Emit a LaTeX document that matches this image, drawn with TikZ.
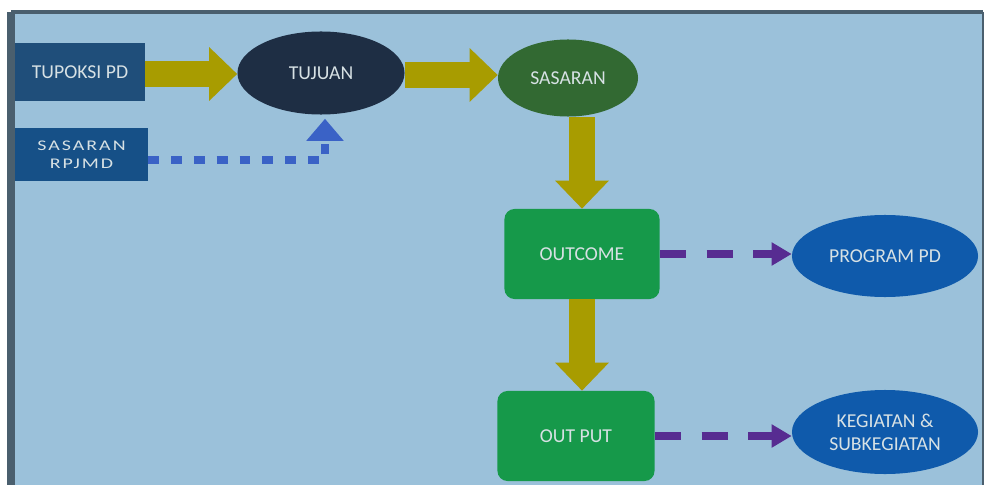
\documentclass[tikz,border=0pt]{standalone}
\usepackage{fontspec}
\usepackage{graphicx}
\setmainfont{Carlito}
\usetikzlibrary{arrows.meta,positioning,shapes.geometric}
\definecolor{skyfill}{RGB}{155,193,218}
\definecolor{framegray}{RGB}{74,95,110}
\definecolor{navybox}{RGB}{31,78,122}
\definecolor{rpjmdblue}{RGB}{22,80,135}
\definecolor{tujuannavy}{RGB}{30,46,68}
\definecolor{sasarangreen}{RGB}{50,105,50}
\definecolor{outgreen}{RGB}{22,153,74}
\definecolor{ovalblue}{RGB}{15,90,171}
\definecolor{olivearrow}{RGB}{168,156,0}
\definecolor{linkpurple}{RGB}{87,44,145}
\definecolor{dotblue}{RGB}{58,98,198}
\definecolor{labelgray}{RGB}{215,225,228}
\newcommand{\widetext}[1]{\scalebox{1.35}[1]{#1}}
\tikzset{
  lbl/.style={text=labelgray,font=\fontsize{14}{16.5}\selectfont,align=center,inner sep=0pt},
  oval/.style={lbl,ellipse,minimum width=#1},
  blockarrow/.style={draw=olivearrow,line width=0.65cm,-{Triangle[length=0.7cm,width=1.3cm]}},
  dashlink/.style={draw=linkpurple,line width=0.2cm,dash pattern=on 0.65cm off 0.52cm,-{Triangle[length=0.5cm,width=0.55cm]}},
  dotlink/.style={draw=dotblue,line width=0.2cm,dash pattern=on 0.27cm off 0.3cm,-{Triangle[length=0.55cm,width=0.9cm]}}
}

\begin{document}
\begin{tikzpicture}[x=0.025cm,y=-0.025cm]
  \useasboundingbox (0,0) rectangle (985,485);
  % frame
  \fill[skyfill] (11,12) rectangle (983,485);
  \draw[framegray,line width=3pt] (11,12) -- (983,12);
  \draw[framegray,line width=5.5pt] (11,12) -- (11,485);
  \draw[framegray,line width=1.8pt] (983,12) -- (983,485);

  % boxes
  \node[lbl,fill=navybox,minimum width=3.25cm,minimum height=1.45cm] (tupoksi) at (80,72) {TUPOKSI PD};
  \node[lbl,fill=rpjmdblue,minimum width=3.325cm,minimum height=1.325cm,
    font=\fontsize{10.5}{13}\selectfont\addfontfeature{LetterSpace=10}] (rpjmd) at (81.5,154.5) {\widetext{SASARAN}\\\widetext{RPJMD}};
  \node[oval=4.175cm,fill=tujuannavy,minimum height=2.075cm] (tujuan) at (321,73) {TUJUAN};
  \node[oval=3.5cm,fill=sasarangreen,minimum height=1.925cm] (sasaran) at (568,78) {SASARAN};
  \node[lbl,fill=outgreen,rounded corners=0.25cm,minimum width=3.875cm,minimum height=2.25cm] (outcome) at (582,254) {OUTCOME};
  \node[lbl,fill=outgreen,rounded corners=0.25cm,minimum width=3.925cm,minimum height=2.25cm] (output) at (576,436) {OUT PUT};
  \node[oval=4.65cm,fill=ovalblue,minimum height=2.05cm] (program) at (885,256) {PROGRAM PD};
  \node[oval=4.65cm,fill=ovalblue,minimum height=2.1cm] (kegiatan) at (885,432) {KEGIATAN \&\\SUBKEGIATAN};

  % connectors
  \draw[blockarrow] ([yshift=-0.05cm]tupoksi.east) -- ([yshift=-0.05cm]tupoksi.east -| tujuan.west);
  \draw[blockarrow] ([yshift=-0.05cm]tujuan.east) -- ([yshift=-0.05cm]tujuan.east -| sasaran.west);
  \draw[blockarrow] (outcome.north |- sasaran.south) -- (outcome.north);
  \draw[blockarrow] (outcome.south) -- (outcome.south |- output.north);
  \draw[dashlink] (outcome.east) -- (outcome.east -| program.west);
  \draw[dashlink] (output.east) -- (output.east -| kegiatan.west);
  \draw[dotlink,shorten >=0.1cm] ([yshift=-0.14cm]rpjmd.east) -| ([xshift=0.1cm]tujuan.south);
\end{tikzpicture}
\end{document}
